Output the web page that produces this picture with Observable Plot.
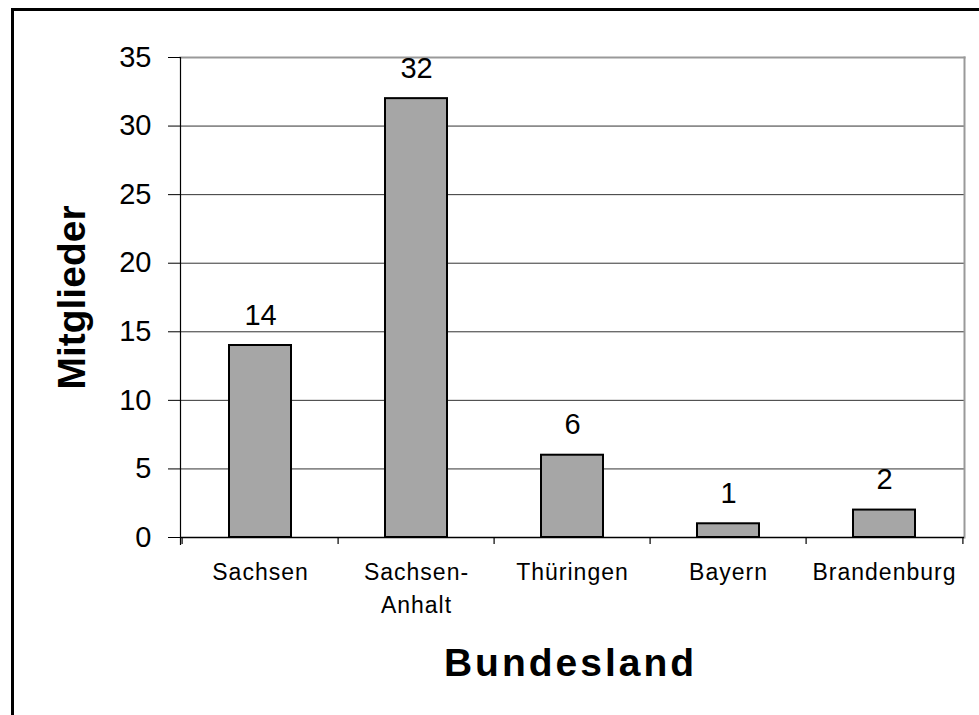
<!DOCTYPE html>
<html>
<head>
<meta charset="utf-8">
<script src="https://cdn.jsdelivr.net/npm/d3@7"></script>
<script src="https://cdn.jsdelivr.net/npm/@observablehq/plot@0.6"></script>
<style>
  html, body { margin: 0; padding: 0; background: white; overflow: hidden; }
  #chart { position: relative; width: 979px; height: 715px; }
  #chart svg { position: absolute; left: 0; top: 0; }
  #border {
    position: absolute; left: 11px; top: 8px; width: 1200px; height: 1200px;
    border-left: 3px solid black; border-top: 3px solid black; pointer-events: none;
  }
</style>
</head>
<body>
<div id="chart"><div id="border"></div></div>
<script>
// Mitglieder je Bundesland
const categories = ["Sachsen", "Sachsen-Anhalt", "Thüringen", "Bayern", "Brandenburg"];
const members = [14, 32, 6, 1, 2];
const tickLabels = ["Sachsen", "Sachsen-\nAnhalt", "Thüringen", "Bayern", "Brandenburg"];
const yTicks = [0, 5, 10, 15, 20, 25, 30, 35];
const xTitle = "Bundesland";
const yTitle = "Mitglieder";

const data = categories.map((land, i) => ({land, n: members[i]}));

const W = 979, H = 715, ML = 180, MR = 15, MT = 57, MB = 178;
const step = (W - ML - MR) / categories.length;
const font = "'Liberation Sans', Arial, Helvetica, sans-serif";

const plot = Plot.plot({
  width: W,
  height: H,
  marginLeft: ML,
  marginRight: MR,
  marginTop: MT,
  marginBottom: MB,
  style: {fontFamily: font, color: "black", background: "transparent", overflow: "visible"},
  x: {domain: categories, paddingInner: 0.6, paddingOuter: 0.3, label: null},
  y: {domain: [0, 35], label: null},
  marks: [
    Plot.gridY(yTicks.slice(1, -1), {stroke: "#333", strokeOpacity: 1}),
    Plot.frame({anchor: "top", stroke: "#999", strokeWidth: 2}),
    Plot.frame({anchor: "right", stroke: "#999", strokeWidth: 2}),
    Plot.barY(data, {x: "land", y: "n", fill: "#a6a6a6", stroke: "black", strokeWidth: 2}),
    Plot.text(data, {x: "land", y: "n", text: d => String(d.n), lineAnchor: "bottom", dy: -21, fontSize: 29}),
    Plot.ruleY([0], {stroke: "black", strokeWidth: 1.5}),
    Plot.frame({anchor: "left", stroke: "black", strokeWidth: 1.2, insetBottom: -7}),
    // category boundary ticks under the baseline
    Plot.ruleX(categories, {x: d => d, dx: -step / 2, y1: 0, y2: 0, insetBottom: -7, stroke: "black", strokeWidth: 1.2}),
    Plot.ruleX(categories.slice(-1), {x: d => d, dx: step / 2, y1: 0, y2: 0, insetBottom: -7, stroke: "black", strokeWidth: 1.2}),
    Plot.axisY({ticks: yTicks, tickSize: 12, tickPadding: 17, fontSize: 29, label: null, tickFormat: d => String(d)}),
    Plot.axisX({tickSize: 0, tickPadding: 20, fontSize: 23, lineHeight: 1.4, label: null,
      tickFormat: d => tickLabels[categories.indexOf(d)]}),
    Plot.text([xTitle], {frameAnchor: "bottom", text: d => d, lineAnchor: "bottom", dy: 138, dx: -2,
      fontSize: 39, fontWeight: "bold"}),
    Plot.text([yTitle], {frameAnchor: "left", text: d => d, rotate: -90, textAnchor: "middle",
      lineAnchor: "bottom", dx: -96, fontSize: 39, fontWeight: "bold"})
  ]
});

const svg = d3.select(plot);
svg.selectAll('[aria-label="x-axis tick label"] text').attr("letter-spacing", "1px");
svg.selectAll("text").filter(function() { return this.textContent === xTitle; }).attr("letter-spacing", "3px");

document.getElementById("chart").prepend(plot);
</script>
</body>
</html>
